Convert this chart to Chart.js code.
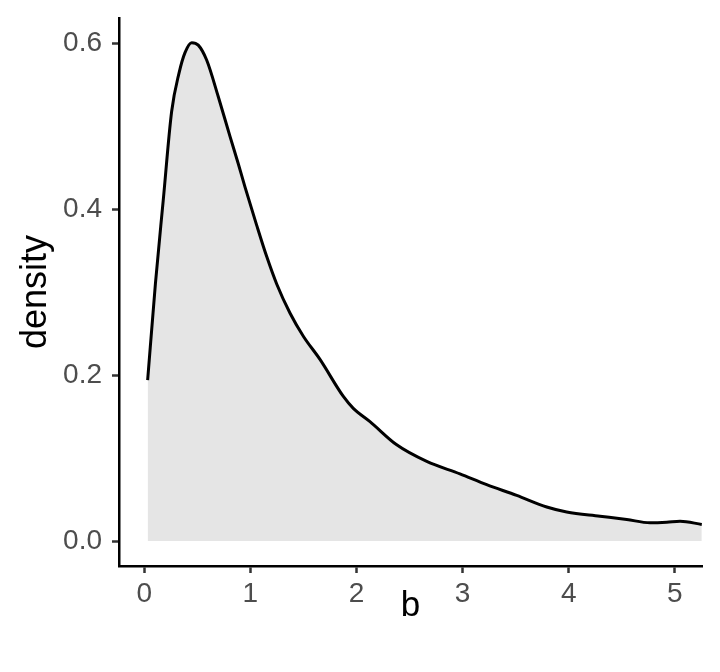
<!DOCTYPE html>
<html>
<head>
<meta charset="utf-8">
<script src="https://cdn.jsdelivr.net/npm/chart.js@4"></script>
<style>
  html, body { margin: 0; padding: 0; background: #fff; }
  #wrap { width: 720px; height: 672px; }
</style>
</head>
<body>
<div id="wrap"><canvas id="chart" width="720" height="672"></canvas></div>
<script>
// density estimate of b
const bValues = [0.032, 0.105, 0.179, 0.258, 0.327, 0.384, 0.447, 0.509, 0.588, 0.697, 0.808, 0.886, 0.949, 1.059, 1.154, 1.248, 1.373, 1.499, 1.656, 1.878, 1.970, 2.127, 2.379, 2.662, 2.975, 3.227, 3.510, 3.793, 3.981, 4.295, 4.547, 4.766, 4.924, 5.049, 5.254];
const densityValues = [0.194, 0.310, 0.411, 0.518, 0.564, 0.589, 0.601, 0.598, 0.580, 0.536, 0.488, 0.455, 0.427, 0.381, 0.343, 0.310, 0.275, 0.247, 0.219, 0.174, 0.160, 0.144, 0.116, 0.096, 0.081, 0.068, 0.055, 0.041, 0.035, 0.030, 0.026, 0.022, 0.0227, 0.024, 0.020];

const xTicks = [0, 1, 2, 3, 4, 5];
const yTicks = [0.0, 0.2, 0.4, 0.6];

const points = bValues.map((b, i) => ({ x: b, y: densityValues[i] }));

const font = "'Liberation Sans', Arial, sans-serif";

const ctx = document.getElementById('chart').getContext('2d');

new Chart(ctx, {
  type: 'scatter',
  data: {
    datasets: [
      {
        data: points,
        showLine: true,
        borderColor: '#000000',
        borderWidth: 3,
        backgroundColor: '#e5e5e5',
        fill: 'origin',
        pointRadius: 0,
        cubicInterpolationMode: 'monotone',
      },
    ],
  },
  options: {
    responsive: false,
    animation: false,
    layout: {
      padding: { left: 0, right: 18, top: 18, bottom: 0 },
    },
    plugins: {
      legend: { display: false },
      tooltip: { enabled: false },
    },
    scales: {
      x: {
        type: 'linear',
        min: -0.238,
        max: 5.256,
        afterBuildTicks: (axis) => {
          axis.ticks = xTicks.map((v) => ({ value: v }));
        },
        afterFit: (axis) => {
          axis.height = 106;
          axis.paddingLeft = 0;
          axis.paddingRight = 0;
        },
        border: { display: true, color: '#000000', width: 2.5 },
        grid: {
          drawOnChartArea: false,
          drawTicks: true,
          tickLength: 7,
          tickWidth: 2.5,
          tickColor: '#333333',
        },
        ticks: {
          color: '#4d4d4d',
          font: { family: font, size: 28 },
          padding: 4,
          callback: (v) => String(v),
        },
        title: {
          display: true,
          text: 'b',
          color: '#000000',
          font: { family: font, size: 35 },
          padding: { top: 0, bottom: 45 },
        },
      },
      y: {
        type: 'linear',
        min: -0.0301,
        max: 0.6307,
        afterBuildTicks: (axis) => {
          axis.ticks = yTicks.map((v) => ({ value: v }));
        },
        afterFit: (axis) => {
          axis.width = 119;
          axis.paddingTop = 0;
          axis.paddingBottom = 0;
        },
        border: { display: true, color: '#000000', width: 2.5 },
        grid: {
          drawOnChartArea: false,
          drawTicks: true,
          tickLength: 7,
          tickWidth: 2.5,
          tickColor: '#333333',
        },
        ticks: {
          color: '#4d4d4d',
          font: { family: font, size: 28 },
          padding: 10,
          callback: (v) => v.toFixed(1),
        },
        title: {
          display: true,
          text: 'density',
          color: '#000000',
          font: { family: font, size: 36 },
          padding: { top: 14, bottom: 0 },
        },
      },
    },
  },
});
</script>
</body>
</html>
